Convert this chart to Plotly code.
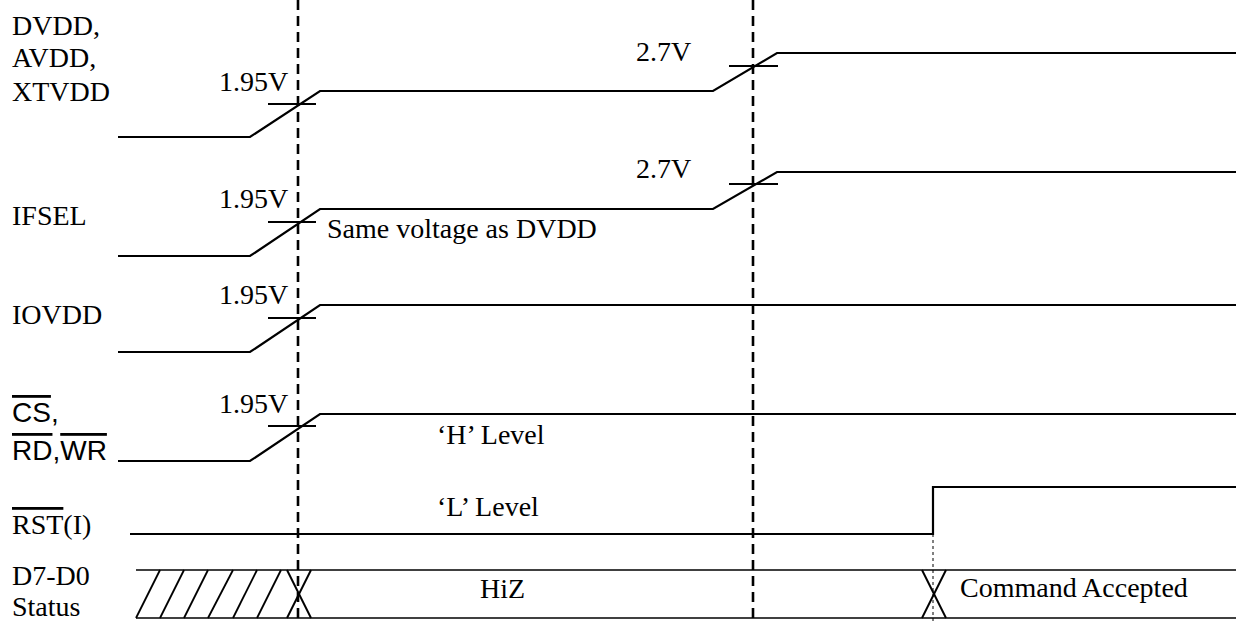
import plotly.graph_objects as go

# ---------------- data (time units along x, level units along y; y grows downward) ----------------
# supply rails
dvdd_t = [118, 250, 320, 713, 777, 1236]
dvdd_v = [137, 137, 91, 91, 53, 53]
ifsel_t = [118, 250, 320, 713, 777, 1236]
ifsel_v = [256, 256, 209, 209, 172, 172]
iovdd_t = [118, 250, 320, 1236]
iovdd_v = [352, 352, 305, 305]
cs_t = [118, 250, 320, 1236]
cs_v = [461, 461, 414, 414]
rst_t = [130, 933, 933, 1236]
rst_v = [534, 534, 487, 487]

# data bus
bus_t = [136, 1236]
bus_top = 570
bus_bottom = 618
hatch_bottom_t = [136, 160, 184, 208, 233, 257]
hatch_top_t = [160, 184, 208, 233, 257, 281]
cross_t0 = [287, 922]
cross_t1 = [311, 946]

# reference markers
marker_t = [298, 753]
rst_edge_t = 933

# threshold ticks
tick_t0 = [268, 729, 268, 729, 268, 268]
tick_t1 = [316, 778, 316, 778, 316, 316]
tick_v = [104, 66, 222, 184, 318, 426]
tick_labels = ["1.95V", "2.7V", "1.95V", "2.7V", "1.95V", "1.95V"]
tick_label_t = [253, 663, 253, 663, 253, 253]
tick_label_v = [81, 51, 198, 168, 294, 403]

# signal names
name_texts = ["DVDD,", "AVDD,", "XTVDD", "IFSEL", "IOVDD",
              '<span style="text-decoration:overline">CS</span>,',
              '<span style="text-decoration:overline">RD</span>,<span style="text-decoration:overline">WR</span>',
              '<span style="text-decoration:overline">RST</span>(I)',
              "D7-D0", "Status"]
name_v = [25, 57, 91, 215, 314, 412, 450, 524, 575, 606]
name_sans = [False, False, False, False, False, True, True, False, False, False]

# notes
note_texts = ["Same voltage as DVDD", "\u2018H\u2019 Level", "\u2018L\u2019 Level", "HiZ", "Command Accepted"]
note_t = [325, 435, 435, 478, 958]
note_v = [228, 434, 506, 588, 587]

# ---------------- figure ----------------
SERIF = "Times New Roman, Liberation Serif, serif"
SANS = "Arial, Liberation Sans, sans-serif"
FS = 28
BLACK = "black"

fig = go.Figure()

def line(x, y, width=2.0, dash=None):
    fig.add_trace(go.Scatter(x=x, y=y, mode="lines", hoverinfo="skip", showlegend=False,
                             line=dict(color=BLACK, width=width, dash=dash)))

for t, v in [(dvdd_t, dvdd_v), (ifsel_t, ifsel_v), (iovdd_t, iovdd_v), (cs_t, cs_v), (rst_t, rst_v)]:
    line(t, v, 2.2)

# bus rails
line(bus_t, [bus_top, bus_top], 1.5)
line(bus_t, [bus_bottom, bus_bottom], 1.5)

# hatches
hx, hy = [], []
for b, t in zip(hatch_bottom_t, hatch_top_t):
    hx += [b, t, None]
    hy += [bus_bottom, bus_top, None]
line(hx, hy, 1.8)

# crossings
cx, cy = [], []
for a, b in zip(cross_t0, cross_t1):
    cx += [a, b, None, a, b, None]
    cy += [bus_top, bus_bottom, None, bus_bottom, bus_top, None]
line(cx, cy, 2.0)

# threshold ticks
kx, ky = [], []
for a, b, v in zip(tick_t0, tick_t1, tick_v):
    kx += [a, b, None]
    ky += [v, v, None]
line(kx, ky, 2.2)

# dashed markers
for m in marker_t:
    line([m, m], [0, 622], 2.6, "10px,6px")

# dotted edge guide
line([rst_edge_t, rst_edge_t], [rst_v[0], 622], 1.0, "dot")

annotations = []
for txt, lx, ly in zip(tick_labels, tick_label_t, tick_label_v):
    annotations.append(dict(x=lx, y=ly, text=txt, showarrow=False, xanchor="center", yanchor="middle",
                            font=dict(family=SERIF, size=FS, color=BLACK)))
for txt, ly, sans in zip(name_texts, name_v, name_sans):
    annotations.append(dict(x=10, y=ly, text=txt, showarrow=False, xanchor="left", yanchor="middle",
                            font=dict(family=SANS if sans else SERIF, size=FS, color=BLACK)))
for txt, lx, ly in zip(note_texts, note_t, note_v):
    annotations.append(dict(x=lx, y=ly, text=txt, showarrow=False, xanchor="left", yanchor="middle",
                            font=dict(family=SERIF, size=FS, color=BLACK)))

fig.update_layout(
    width=1236, height=622,
    margin=dict(l=0, r=0, t=0, b=0),
    paper_bgcolor="white", plot_bgcolor="white",
    xaxis=dict(range=[0, 1236], visible=False, fixedrange=True),
    yaxis=dict(range=[622, 0], visible=False, fixedrange=True),
    annotations=annotations,
)

fig.write_html("out.html", config={"displayModeBar": False},
               post_script="document.body.style.margin='0';document.body.style.overflow='hidden';")
